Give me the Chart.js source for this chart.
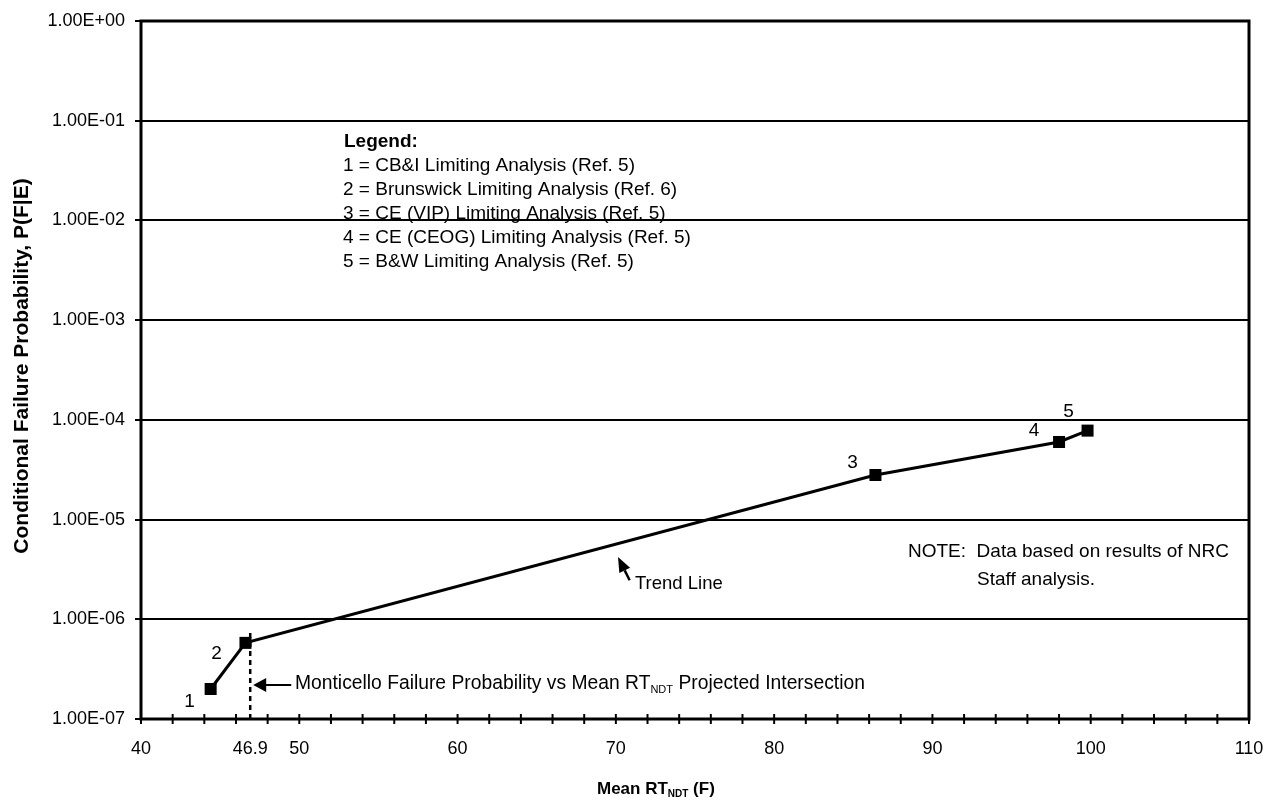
<!DOCTYPE html>
<html>
<head>
<meta charset="utf-8">
<script src="https://cdn.jsdelivr.net/npm/chart.js@4.4.0/dist/chart.umd.min.js"></script>
<style>
html,body{margin:0;padding:0;background:#fff;}
#wrap{width:1271px;height:807px;position:relative;}
</style>
</head>
<body>
<div id="wrap"><canvas id="c" width="1271" height="807"></canvas></div>
<script>
// ---- data ----
const meanRT = [44.4, 46.6, 86.4, 98.0, 99.8];
const failureProb = [2.0e-7, 5.8e-7, 2.8e-5, 6.0e-5, 7.8e-5];
const pointNames = ['1', '2', '3', '4', '5'];
const projectedX = [46.9, 46.9];
const projectedY = [1e-7, 7.8e-7];
const xLabelValues = [40, 46.9, 50, 60, 70, 80, 90, 100, 110];
const xMinorValues = [40,42,44,46,48,50,52,54,56,58,60,62,64,66,68,70,72,74,76,78,80,82,84,86,88,90,92,94,96,98,100,102,104,106,108,110];
const yTickValues = [1e-7, 1e-6, 1e-5, 1e-4, 1e-3, 1e-2, 1e-1, 1];
const legendTitle = 'Legend:';
const legendItems = [
  '1 = CB&I Limiting Analysis (Ref. 5)',
  '2 = Brunswick Limiting Analysis (Ref. 6)',
  '3 = CE (VIP) Limiting Analysis (Ref. 5)',
  '4 = CE (CEOG) Limiting Analysis (Ref. 5)',
  '5 = B&W Limiting Analysis (Ref. 5)'
];
const noteLines = ['NOTE:  Data based on results of NRC', 'Staff analysis.'];
const trendLabel = 'Trend Line';
const monticelloParts = ['Monticello Failure Probability vs Mean RT', 'NDT', ' Projected Intersection'];
const xTitleParts = ['Mean RT', 'NDT', ' (F)'];
const yTitle = 'Conditional Failure Probability, P(F|E)';

// ---- styling ----
const FONT = '"Liberation Sans", Arial, sans-serif';
const labelOffsets = [[-21, 13], [-29, 11], [-23, -12], [-25, -11], [-19, -19]];

function fmtExp(v) {
  const e = Math.round(Math.log10(v));
  const sign = e < 0 ? '-' : '+';
  const a = Math.abs(e);
  return '1.00E' + sign + (a < 10 ? '0' + a : '' + a);
}

function drawRuns(ctx, x, y, runs) {
  let cx = x;
  runs.forEach(r => {
    ctx.font = r.font;
    ctx.fillText(r.t, cx, y + (r.dy || 0));
    cx += ctx.measureText(r.t).width;
  });
}

const annot = {
  id: 'annot',
  beforeDraw(chart) {
    const ctx = chart.ctx;
    ctx.save();
    ctx.fillStyle = '#fff';
    ctx.fillRect(0, 0, chart.width, chart.height);
    ctx.restore();
  },
  afterDraw(chart) {
    const ctx = chart.ctx;
    const ca = chart.chartArea;
    const xs = chart.scales.x;
    ctx.save();
    // border
    ctx.strokeStyle = '#000';
    ctx.lineWidth = 3;
    ctx.strokeRect(ca.left, ca.top, ca.right - ca.left, ca.bottom - ca.top);
    // x minor ticks crossing axis
    ctx.lineWidth = 2;
    xMinorValues.forEach(v => {
      const px = xs.getPixelForValue(v);
      ctx.beginPath();
      ctx.moveTo(px, ca.bottom - 5);
      ctx.lineTo(px, ca.bottom + 5);
      ctx.stroke();
    });
    ctx.fillStyle = '#000';
    ctx.textBaseline = 'middle';
    ctx.textAlign = 'left';
    // point labels
    const meta = chart.getDatasetMeta(0);
    ctx.font = '19px ' + FONT;
    meta.data.forEach((pt, i) => {
      ctx.textAlign = 'center';
      ctx.fillText(pointNames[i], pt.x + labelOffsets[i][0], pt.y + labelOffsets[i][1]);
    });
    ctx.textAlign = 'left';
    // legend block
    ctx.font = 'bold 19px ' + FONT;
    ctx.fillText(legendTitle, 344, 142);
    ctx.font = '19px ' + FONT;
    legendItems.forEach((t, i) => ctx.fillText(t, 343, 166 + i * 24));
    // note
    ctx.fillText(noteLines[0], 908, 552);
    ctx.fillText(noteLines[1], 977, 580);
    // trend line label + arrow
    ctx.font = '18.5px ' + FONT;
    ctx.fillText(trendLabel, 635, 584);
    const tip = [618, 557], d = [0.447, 0.894], perp = [-0.894, 0.447];
    const hl = 15, hw = 6;
    const bc = [tip[0] + d[0] * hl, tip[1] + d[1] * hl];
    ctx.beginPath();
    ctx.moveTo(tip[0], tip[1]);
    ctx.lineTo(bc[0] + perp[0] * hw, bc[1] + perp[1] * hw);
    ctx.lineTo(bc[0] - perp[0] * hw, bc[1] - perp[1] * hw);
    ctx.closePath();
    ctx.fill();
    ctx.beginPath();
    ctx.lineWidth = 2.5;
    ctx.moveTo(bc[0], bc[1]);
    ctx.lineTo(tip[0] + d[0] * 26, tip[1] + d[1] * 26);
    ctx.stroke();
    // Monticello arrow and text
    const ax = xs.getPixelForValue(projectedX[0]) + 3;
    const ay = 685;
    ctx.beginPath();
    ctx.moveTo(ax, ay);
    ctx.lineTo(ax + 13, ay - 7);
    ctx.lineTo(ax + 13, ay + 7);
    ctx.closePath();
    ctx.fill();
    ctx.beginPath();
    ctx.lineWidth = 2;
    ctx.moveTo(ax + 12, ay);
    ctx.lineTo(ax + 38, ay);
    ctx.stroke();
    ctx.textBaseline = 'alphabetic';
    drawRuns(ctx, 295, 689, [
      {t: monticelloParts[0], font: '19.3px ' + FONT},
      {t: monticelloParts[1], font: '11px ' + FONT, dy: 4},
      {t: monticelloParts[2], font: '19.3px ' + FONT}
    ]);
    // x title
    drawRuns(ctx, 597, 794, [
      {t: xTitleParts[0], font: 'bold 17px ' + FONT},
      {t: xTitleParts[1], font: 'bold 10px ' + FONT, dy: 3},
      {t: xTitleParts[2], font: 'bold 17px ' + FONT}
    ]);
    // y title
    ctx.translate(22, 366);
    ctx.rotate(-Math.PI / 2);
    ctx.textAlign = 'center';
    ctx.textBaseline = 'middle';
    ctx.font = 'bold 21px ' + FONT;
    ctx.fillText(yTitle, 0, 0);
    ctx.restore();
  }
};

new Chart(document.getElementById('c').getContext('2d'), {
  type: 'scatter',
  data: {
    datasets: [
      {
        data: meanRT.map((x, i) => ({x: x, y: failureProb[i]})),
        showLine: true,
        borderColor: '#000',
        backgroundColor: '#000',
        borderWidth: 3,
        pointStyle: 'rect',
        pointRadius: 8.5,
        pointHoverRadius: 8.5,
        pointBorderWidth: 0,
        tension: 0
      },
      {
        data: projectedX.map((x, i) => ({x: x, y: projectedY[i]})),
        showLine: true,
        borderColor: '#000',
        borderWidth: 2.5,
        borderDash: [5, 4],
        pointRadius: 0
      }
    ]
  },
  options: {
    responsive: false,
    animation: false,
    events: [],
    layout: {padding: {left: 0, right: 22, top: 21, bottom: 0}},
    plugins: {legend: {display: false}, tooltip: {enabled: false}, title: {display: false}},
    scales: {
      x: {
        type: 'linear',
        min: 40,
        max: 110,
        afterBuildTicks: s => { s.ticks = xLabelValues.map(v => ({value: v})); },
        afterFit: s => { s.height = 88; s.paddingLeft = 0; s.paddingRight = 0; },
        grid: {display: false, drawTicks: false},
        border: {display: false},
        ticks: {
          autoSkip: false,
          maxRotation: 0,
          padding: 19,
          color: '#000',
          font: {family: FONT, size: 18},
          callback: v => String(v)
        }
      },
      y: {
        type: 'logarithmic',
        min: 1e-7,
        max: 1,
        afterBuildTicks: s => { s.ticks = yTickValues.map(v => ({value: v})); },
        afterFit: s => { s.width = 141; s.paddingTop = 0; s.paddingBottom = 0; },
        grid: {color: '#000', lineWidth: 2, drawTicks: true, tickLength: 6},
        border: {display: false},
        ticks: {
          autoSkip: false,
          padding: 10,
          color: '#000',
          font: {family: FONT, size: 18},
          callback: v => fmtExp(v)
        }
      }
    }
  },
  plugins: [annot]
});
</script>
</body>
</html>
